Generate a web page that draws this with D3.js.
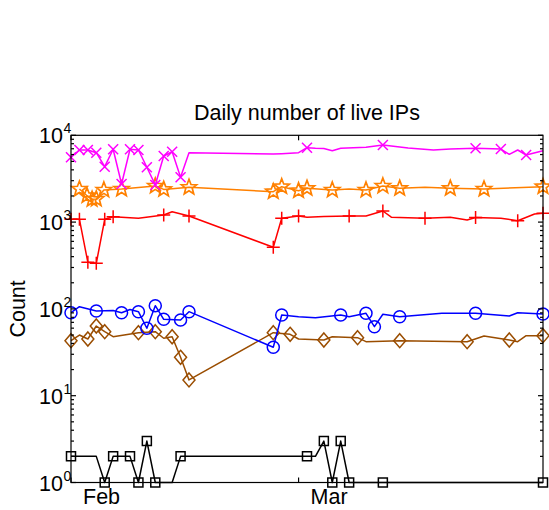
<!DOCTYPE html>
<html><head><meta charset="utf-8">
<script src="https://cdn.jsdelivr.net/npm/d3@7"></script>
<style>body{margin:0;background:#fff}svg{display:block}text{font-family:"Liberation Sans",Arial,sans-serif;fill:#000}</style>
</head><body><svg id="c" width="549" height="510"></svg>
<script>
// ---- data ----
const title = "Daily number of live IPs";
const yLabel = "Count";
const xTickDays = [0, 27];
const xTickLabels = ["Feb", "Mar"];
const yTickExps = [0, 1, 2, 3, 4];

const magentaDays = [0,1,2,3,4,5,6,7,8,9,10,11,12,13,14,24,25,27,28,29,30,31,32,35,37,40,43,45,48,51,52,53,54,56];
const magentaVals = [5580,6770,6770,6300,4350,6900,2750,6900,6770,4280,2680,5770,6470,3280,6300,6090,6150,6300,7200,7080,7040,6645,7080,7270,7730,7150,6770,6950,7080,6950,6040,6770,5930,6645];
const magentaMarks = [0,1,2,3,4,5,6,7,8,9,10,11,12,13,28,37,48,51,54];

const orangeDays = [1,1.9,2.5,3,3.9,6,10,11,14,24,25,27,28,31,33,35,37,39,42,45,49,56];
const orangeVals = [2405,2015,1830,1845,2343,2405,2605,2380,2518,2240,2557,2300,2451,2343,2405,2343,2605,2451,2518,2451,2405,2557];
const orangeMarks = [1,1.9,2.5,3,3.9,6,10,11,14,24,25,27,28,31,35,37,39,45,49,56];

const redDays = [0,1,2,3,4,5,8,11,12,14,24,25,27,28,30,33,35,37,38,42,45,47,48,51,53,55,56];
const redVals = [1077,1077,344,335,1077,1154,1106,1207,1318,1176,513,1106,1176,1140,1160,1176,1176,1342,1140,1106,1140,1057,1130,1106,1038,1240,1263];
const redMarks = [0,1,2,3,4,5,11,14,24,25,27,33,37,42,48,53,56];

const blueDays = [0,1,3,5,6,7,8,9,10,11,13,14,24,25,27,29,32,33,35,36,37,39,44,48,52,53,56];
const blueVals = [90.4,106,94.6,95.9,90.4,98.4,92.9,59.8,109,75.9,74.5,92.9,36.1,85.1,81.3,79.2,85.1,81.3,89,62.4,86.7,81.3,89,89,82.8,90.4,87.4];
const blueMarks = [0,3,6,8,9,10,11,13,14,24,25,32,35,36,39,48,56];

const brownDays = [0,1,2,3,4,5,8,10,11,12,13,14,24,26,27,30,31,34,35,39,43,47,49,52,53,54,56];
const brownVals = [43,50,45,63.5,54.6,47.8,53.2,54.6,45.9,47.8,27.7,15.2,53.2,51,45,43.8,47.8,46.6,41.9,43,42.5,41.9,48.7,43.8,41.9,49.1,49.1];
const brownMarks = [0,2,3,4,8,10,12,13,14,24,26,30,34,39,47,52,56];

const blackDays = [0,3,4,5,7,8,9,10,12,13,28,29,30,31,32,33,37,56];
const blackVals = [2,2,1,2,2,1,3,1,1,2,2,2,3,1,3,1,1,1];
const blackMarks = [0,4,5,7,8,9,10,13,28,30,31,32,33,37,56];

const series = [
  {days: blackDays, vals: blackVals, marks: blackMarks, color: "#000000", marker: "square"},
  {days: brownDays, vals: brownVals, marks: brownMarks, color: "#9a4d00", marker: "diamond"},
  {days: blueDays, vals: blueVals, marks: blueMarks, color: "#0000ff", marker: "circle"},
  {days: redDays, vals: redVals, marks: redMarks, color: "#ff0000", marker: "plus"},
  {days: orangeDays, vals: orangeVals, marks: orangeMarks, color: "#ff8000", marker: "star"},
  {days: magentaDays, vals: magentaVals, marks: magentaMarks, color: "#ff00ff", marker: "cross"}
];

// ---- layout ----
const L = 71, R = 543, T = 135.3, B = 482.5;
const svg = d3.select("#c");
const x = d3.scaleLinear().domain([0, 56]).range([L, R]);
const y = d3.scaleLog().domain([1, 1e4]).range([B, T]);

const g = svg.append("g");
const line = d3.line().x(d => x(d[0])).y(d => y(d[1]));

function markerPath(type) {
  const p = d3.path();
  if (type === "square") { p.rect(-4.5, -4.5, 9, 9); }
  else if (type === "diamond") { p.moveTo(0, -7); p.lineTo(6, 0); p.lineTo(0, 7); p.lineTo(-6, 0); p.closePath(); }
  else if (type === "circle") { p.moveTo(6, 0); p.arc(0, 0, 6, 0, 2 * Math.PI); }
  else if (type === "plus") { p.moveTo(-6.5, 0); p.lineTo(6.5, 0); p.moveTo(0, -6.5); p.lineTo(0, 6.5); }
  else if (type === "cross") { p.moveTo(-5, -5); p.lineTo(5, 5); p.moveTo(-5, 5); p.lineTo(5, -5); }
  else if (type === "star") {
    const ro = 8, ri = 3.4;
    for (let i = 0; i < 10; i++) {
      const r = i % 2 ? ri : ro, a = -Math.PI / 2 + i * Math.PI / 5;
      const px = r * Math.cos(a), py = r * Math.sin(a);
      if (i === 0) p.moveTo(px, py); else p.lineTo(px, py);
    }
    p.closePath();
  }
  return p.toString();
}

series.forEach(s => {
  const pts = s.days.map((d, i) => [d, s.vals[i]]);
  g.append("path").attr("d", line(pts)).attr("fill", "none")
    .attr("stroke", s.color).attr("stroke-width", 1.5).attr("stroke-linejoin", "round");
  const mp = markerPath(s.marker);
  pts.filter(p => s.marks.includes(p[0])).forEach(p => {
    g.append("path").attr("d", mp).attr("transform", `translate(${x(p[0])},${y(p[1])})`)
      .attr("fill", "none").attr("stroke", s.color).attr("stroke-width", s.marker === "star" ? 1.7 : 1.5);
  });
});

// ---- axes box ----
const ax = svg.append("g").attr("stroke", "#000").attr("stroke-width", 1.2).attr("fill", "none");
ax.append("rect").attr("x", L).attr("y", T).attr("width", R - L).attr("height", B - T);

const yMajor = yTickExps.map(e => Math.pow(10, e));
const yMinor = [];
for (let e = 0; e < 4; e++) for (let k = 2; k <= 9; k++) yMinor.push(k * Math.pow(10, e));
yMajor.forEach(v => {
  ax.append("line").attr("x1", L).attr("x2", L + 5).attr("y1", y(v)).attr("y2", y(v));
  ax.append("line").attr("x1", R).attr("x2", R - 5).attr("y1", y(v)).attr("y2", y(v));
});
yMinor.forEach(v => {
  ax.append("line").attr("x1", L).attr("x2", L + 3).attr("y1", y(v)).attr("y2", y(v));
  ax.append("line").attr("x1", R).attr("x2", R - 3).attr("y1", y(v)).attr("y2", y(v));
});
xTickDays.forEach(d => {
  ax.append("line").attr("x1", x(d)).attr("x2", x(d)).attr("y1", B).attr("y2", B - 5);
  ax.append("line").attr("x1", x(d)).attr("x2", x(d)).attr("y1", T).attr("y2", T + 5);
});

// y tick labels 10^n
yTickExps.forEach(e => {
  const yy = y(Math.pow(10, e));
  svg.append("text").attr("x", 63).attr("y", yy + 8).attr("text-anchor", "end")
    .attr("font-size", 21.5).text("10");
  svg.append("text").attr("x", 63.5).attr("y", yy - 2).attr("font-size", 14).text(String(e));
});
xTickDays.forEach((d, i) => {
  svg.append("text").attr("x", x(d) + 12).attr("y", 504).attr("font-size", 21.5).text(xTickLabels[i]);
});
svg.append("text").attr("x", (L + R) / 2).attr("y", 120).attr("text-anchor", "middle")
  .attr("font-size", 21.5).text(title);
svg.append("text").attr("transform", `translate(25,${(T + B) / 2}) rotate(-90)`)
  .attr("text-anchor", "middle").attr("font-size", 21.5).text(yLabel);
</script></body></html>
